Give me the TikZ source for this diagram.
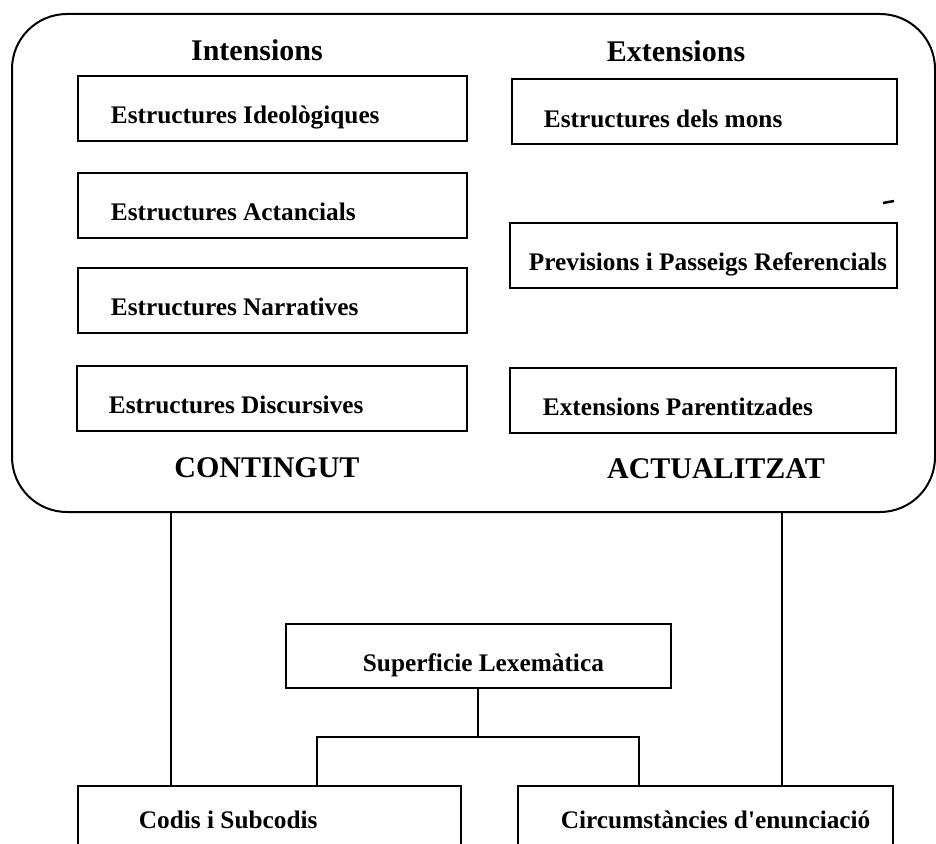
\documentclass[tikz,border=0pt]{standalone}
\usepackage{fontspec}
\setmainfont{Liberation Serif}[Ligatures=TeXOff]
\newcommand\boxtext[3]{\makebox[#1pt][l]{\hspace*{#2pt}#3}}
\begin{document}
\begin{tikzpicture}[x=1pt,y=-1pt,
  conn/.style={line width=1.9pt},
  box/.style={draw, line width=1.8pt, inner sep=0pt, anchor=north west,
    text height=48pt, text depth=17pt, font=\bfseries\fontsize{25.3}{30}\selectfont},
  head/.style={anchor=base, inner sep=0pt, font=\bfseries\fontsize{30}{36}\selectfont}]
\useasboundingbox (0,0) rectangle (936,843);
% outer rounded frame
\node[draw, line width=2pt, rounded corners=55pt, minimum width=923pt, minimum height=498pt,
      inner sep=0pt, anchor=north west] (outer) at (11,13) {};
% headings
\node[head] (int) at (257,60) {Intensions};
\node[head] (ext) at (676,62) {Extensions};
\node[head] (cont) at (267,477) {CONTINGUT};
\node[head] (act) at (716,478) {ACTUALITZAT};
% left column
\node[box] (ideo) at (77,75) {\boxtext{389}{33}{Estructures Ideològiques}};
\node[box] (actan) at (77,172) {\boxtext{389}{33}{Estructures Actancials}};
\node[box] (narr) at (77,267) {\boxtext{389}{33}{Estructures Narratives}};
\node[box] (disc) at (76,365) {\boxtext{390}{32}{Estructures Discursives}};
% right column
\node[box, text height=49pt, text depth=16pt] (mons) at (511,78) {\boxtext{385}{32}{Estructures dels mons}};
\node[box] (prev) at (509,222) {\boxtext{387}{19}{Previsions i Passeigs Referencials}};
\node[box] (par) at (509,367) {\boxtext{386}{33}{Extensions Parentitzades}};
% small scan mark
\draw[line width=2.5pt] (883,203) -- (894,201);
% lower part
\node[box, text height=48pt, text depth=16pt] (sup) at (285,623) {\boxtext{385}{77}{Superficie Lexemàtica}};
\node[box, text height=43pt, text depth=22pt] (codis) at (77,785) {\boxtext{383}{61}{Codis i Subcodis}};
\node[box, text height=43pt, text depth=22pt] (circ) at (517,785) {\boxtext{375}{43}{Circumstàncies d'enunciació}};
% connectors
\coordinate (cl) at (171,0);
\coordinate (cr) at (782,0);
\coordinate (jl) at (317,737);
\coordinate (jr) at (639,737);
\draw[conn] (cl |- outer.south) -- (cl |- codis.north);
\draw[conn] (cr |- outer.south) -- (cr |- circ.north);
\draw[conn] (sup.south) -- (sup.south |- jl);
\draw[conn] (jl |- codis.north) -- (jl) -- (jr) -- (jr |- circ.north);
\end{tikzpicture}
\end{document}
